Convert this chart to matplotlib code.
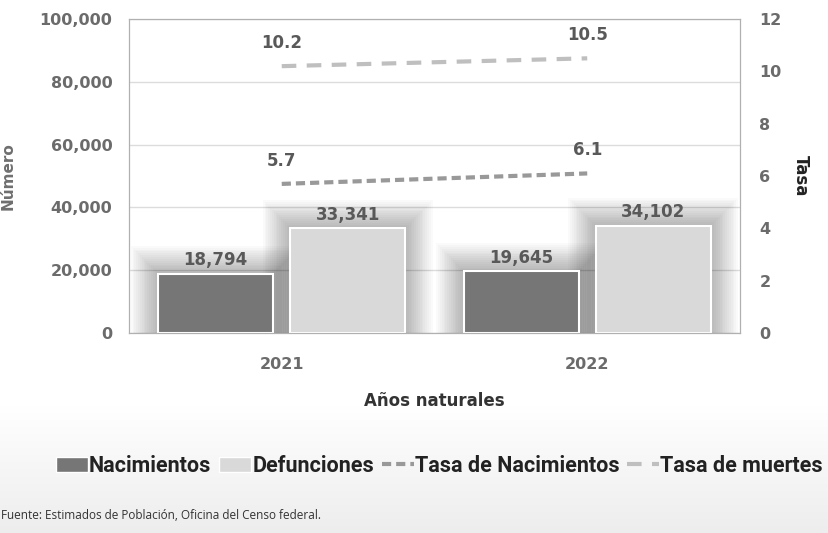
import numpy as np
import matplotlib.pyplot as plt
from matplotlib.patches import Rectangle
from matplotlib.lines import Line2D

# Datos
years = ['2021', '2022']
nacimientos = [18794, 19645]
defunciones = [33341, 34102]
tasa_nac = [5.7, 6.1]
tasa_muertes = [10.2, 10.5]

fig = plt.figure(figsize=(8.29, 5.33), dpi=100)
fig.patch.set_facecolor('white')

# Soft grey gradient at the bottom, behind the legend
bg = fig.add_axes([0, 0, 1, 0.24], zorder=-10)
g = np.linspace(1.0, 0.93, 100)
img = np.dstack([g, g, g]).reshape(100, 1, 3)
bg.imshow(img, aspect='auto', extent=[0, 1, 0, 1], origin='upper')
bg.axis('off')

ax = fig.add_axes([0.1556, 0.3752, 0.737, 0.589])
ax2 = ax.twinx()

x = np.arange(len(years))
w = 0.376
off = 0.216

# Soft glow around the bars
for vals, xo in [(nacimientos, -off), (defunciones, off)]:
    for i, v in enumerate(vals):
        for k in range(1, 16):
            ex = k * 0.006
            ax.add_patch(Rectangle((x[i] + xo - w / 2 - ex, 0), w + 2 * ex, v + k * 600,
                                   facecolor='black', alpha=0.018, edgecolor='none', zorder=1))

b1 = ax.bar(x - off, nacimientos, w, color='#767676', edgecolor='white', linewidth=1.5, zorder=3)
b2 = ax.bar(x + off, defunciones, w, color='#d9d9d9', edgecolor='white', linewidth=1.5, zorder=3)

for i in range(len(years)):
    ax.text(x[i] - off, nacimientos[i] + 1500, f'{nacimientos[i]:,}', ha='center', va='bottom',
            fontsize=12, fontweight='bold', color='#595959', zorder=5)
    ax.text(x[i] + off, defunciones[i] + 1500, f'{defunciones[i]:,}', ha='center', va='bottom',
            fontsize=12, fontweight='bold', color='#595959', zorder=5)

ax.set_xlim(-0.5, 1.5)
ax.set_ylim(0, 100000)
ax.set_yticks(range(0, 100001, 20000))
ax.set_yticklabels([f'{v:,}' for v in range(0, 100001, 20000)])
ax.set_xticks(x)
ax.set_xticklabels(years)
ax.grid(axis='y', color='#dcdcdc', linewidth=1, zorder=0)
ax.set_axisbelow(True)
ax.tick_params(axis='y', length=0, pad=12, labelsize=11.5, labelcolor='#6b6b6b')
ax.tick_params(axis='x', length=0, pad=17, labelsize=11.5, labelcolor='#6b6b6b')
for lab in ax.get_yticklabels() + ax.get_xticklabels():
    lab.set_fontweight('bold')
for s in ax.spines.values():
    s.set_color('#b0b0b0')
ax.set_ylabel('Número', fontsize=11, fontweight='bold', color='#6f6f6f')
ax.yaxis.set_label_coords(-0.185, 0.5)
ax.set_xlabel('Años naturales', fontsize=12, fontweight='bold', color='#333333', labelpad=15)

# Tasas
ax2.plot(x, tasa_nac, color='#999999', linewidth=3, dashes=(2.2, 1.2), zorder=4)
ax2.plot(x, tasa_muertes, color='#bfbfbf', linewidth=3, dashes=(3.5, 2.5), zorder=4)
for i in range(len(years)):
    ax2.text(x[i], tasa_nac[i] + 0.55, f'{tasa_nac[i]}', ha='center', va='bottom',
             fontsize=12, fontweight='bold', color='#595959')
    ax2.text(x[i], tasa_muertes[i] + 0.55, f'{tasa_muertes[i]}', ha='center', va='bottom',
             fontsize=12, fontweight='bold', color='#595959')
ax2.set_ylim(0, 12)
ax2.set_yticks(range(0, 13, 2))
ax2.tick_params(axis='y', length=0, pad=14, labelsize=11.5, labelcolor='#6b6b6b')
for lab in ax2.get_yticklabels():
    lab.set_fontweight('bold')
for s in ax2.spines.values():
    s.set_color('#b0b0b0')
ax2.set_ylabel('Tasa', fontsize=12, fontweight='bold', color='#222222', rotation=-90, va='center')
ax2.yaxis.set_label_coords(1.1, 0.5)

handles = [
    Rectangle((0, 0), 1, 1, facecolor='#767676', edgecolor='white'),
    Rectangle((0, 0), 1, 1, facecolor='#d9d9d9', edgecolor='white'),
    Line2D([0], [0], color='#999999', linewidth=3, dashes=(2.2, 1.2)),
    Line2D([0], [0], color='#bfbfbf', linewidth=3, dashes=(3.5, 2.5)),
]
labels = ['Nacimientos', 'Defunciones', 'Tasa de Nacimientos', 'Tasa de muertes']
fig.legend(handles, labels, loc='center', bbox_to_anchor=(0.53, 0.126), ncol=4, frameon=False,
           prop={'family': 'Roboto', 'weight': 'bold', 'size': 15.5},
           handlelength=1.5, handletextpad=0.05, columnspacing=0.35, labelcolor='#222222')

fig.text(0.001, 0.026, 'Fuente: Estimados de Población, Oficina del Censo federal.',
         fontsize=8.5, color='#333333', family='Open Sans')

fig.savefig('out.png', dpi=100)
